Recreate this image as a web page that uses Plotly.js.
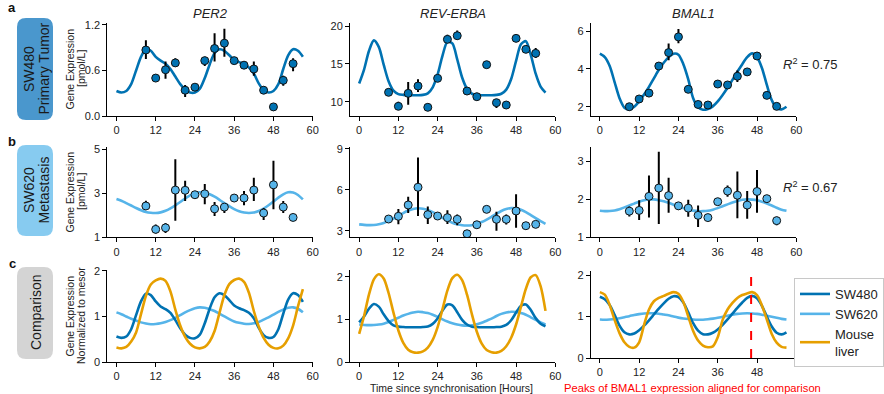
<!DOCTYPE html>
<html><head><meta charset="utf-8">
<script src="https://cdn.plot.ly/plotly-3.0.1.min.js"></script>
<style>html,body{margin:0;padding:0;background:#fff}#chart{width:884px;height:394px}</style>
</head><body><div id="chart"></div>
<script>
// ---------------- DATA ----------------
const genes = ['PER2', 'REV-ERBA', 'BMAL1'];
const sampleTimes = [9,12,15,18,21,24,27,30,33,36,39,42,45,48,51,54];
const fitTimes = [0,1.5,3,4.5,6,7.5,9,10.5,12,13.5,15,16.5,18,19.5,21,22.5,24,25.5,27,28.5,30,31.5,33,34.5,36,37.5,39,40.5,42,43.5,45,46.5,48,49.5,51,52.5,54,55.5,57];
const xTickVals = [0,12,24,36,48,60];
const xTickValsAligned = [0,12,24,36,48];

// Row a : SW480 primary tumor (pmol/L)
const sw480_PER2 = [0.87,0.50,0.61,0.70,0.34,0.38,0.73,0.89,0.96,0.73,0.67,0.62,0.34,0.12,0.47,0.69];
const sw480_PER2_errUp = [0.13,0.02,0.11,0.06,0.07,0.02,0.05,0.20,0.19,0.03,0.02,0.10,0.05,0.02,0.06,0.07];
const sw480_PER2_errDown = [0.12,0.02,0.12,0.05,0.09,0.02,0.07,0.17,0.18,0.03,0.02,0.09,0.05,0.02,0.07,0.10];
const sw480_PER2_fit = [0.33,0.31,0.33,0.42,0.60,0.78,0.88,0.86,0.78,0.73,0.69,0.62,0.52,0.42,0.35,0.31,0.31,0.36,0.50,0.68,0.83,0.88,0.86,0.80,0.74,0.71,0.68,0.64,0.56,0.43,0.34,0.31,0.33,0.42,0.62,0.80,0.88,0.86,0.78];

const sw480_REV = [11.24,9.39,11.1,12.07,9.26,13.09,18.24,18.72,11.41,10.66,14.89,9.87,9.56,18.37,16.92,16.39];
const sw480_REV_errUp = [0.5,0.6,1.5,0.9,0.2,0.2,0.6,0.7,0.2,0.2,0.2,0.4,0.2,0.4,0.2,0.7];
const sw480_REV_errDown = [0.5,0.5,1.5,0.8,0.2,0.2,0.4,0.5,0.2,0.2,0.2,0.7,0.2,0.3,0.2,0.6];
const sw480_REV_fit = [12.4,14.25,16.7,18.1,17.25,14.9,12.7,11.45,11.0,10.9,10.85,10.85,10.85,10.9,11.1,11.9,13.6,16.1,17.9,17.7,15.6,13.2,11.7,11.05,10.9,10.85,10.85,10.85,10.9,11.05,11.6,13.0,15.4,17.6,18.0,16.2,13.7,12.0,11.2];

const sw480_BMAL = [2.0,2.41,2.72,4.15,4.86,5.69,2.92,2.12,2.09,3.2,3.15,3.61,3.84,4.68,2.6,2.02];
const sw480_BMAL_errUp = [0.15,0.05,0.15,0.15,0.48,0.42,0.05,0.05,0.05,0.05,0.05,0.3,0.05,0.05,0.12,0.05];
const sw480_BMAL_errDown = [0.1,0.05,0.15,0.15,0.4,0.34,0.05,0.05,0.05,0.05,0.05,0.3,0.05,0.05,0.15,0.05];
const sw480_BMAL_fit = [4.80,4.62,4.15,3.30,2.45,1.95,1.86,2.00,2.28,2.65,3.05,3.50,3.95,4.32,4.62,4.80,4.75,4.25,3.45,2.45,1.97,1.84,1.88,2.02,2.28,2.62,3.00,3.42,3.85,4.25,4.62,4.82,4.62,4.05,3.15,2.35,1.93,1.86,2.00];

// Row b : SW620 metastasis (pmol/L)
const sw620_PER2 = [2.42,1.36,1.43,3.14,3.13,2.93,2.97,2.29,2.37,2.78,2.78,3.14,2.10,3.38,2.37,1.90];
const sw620_PER2_errUp = [0.24,0.22,0.22,1.40,0.43,0.12,0.45,0.31,0.18,0.12,0.32,0.56,0.23,1.09,0.27,0.04];
const sw620_PER2_errDown = [0.18,0.19,0.23,1.39,0.48,0.12,0.47,0.32,0.27,0.15,0.33,0.49,0.32,1.11,0.27,0.04];
const sw620_PER2_fit = [2.74,2.66,2.55,2.44,2.33,2.23,2.15,2.11,2.10,2.13,2.20,2.31,2.45,2.60,2.76,2.90,3.00,3.04,3.02,2.95,2.84,2.70,2.55,2.41,2.28,2.18,2.12,2.10,2.12,2.19,2.30,2.45,2.62,2.80,2.95,3.04,3.03,2.92,2.72];

const sw620_REV = [3.86,4.06,4.89,6.19,4.18,4.08,3.96,3.84,2.78,3.44,4.57,3.84,3.84,4.45,3.37,3.47];
const sw620_REV_errUp = [0.15,0.54,0.61,2.18,0.6,0.12,0.54,0.36,0.05,0.2,0.2,0.56,0.36,1.23,0.05,0.05];
const sw620_REV_errDown = [0.15,0.59,0.59,2.11,0.68,0.12,0.46,0.44,0.05,0.2,0.2,0.84,0.39,1.23,0.05,0.05];
const sw620_REV_fit = [3.47,3.43,3.41,3.42,3.47,3.57,3.72,3.90,4.10,4.30,4.48,4.60,4.65,4.62,4.52,4.36,4.16,3.95,3.76,3.59,3.47,3.40,3.38,3.41,3.50,3.64,3.82,4.03,4.25,4.45,4.59,4.66,4.64,4.54,4.37,4.15,3.92,3.70,3.50];

const sw620_BMAL = [1.69,1.71,2.08,2.3,2.1,1.83,1.77,1.58,1.52,1.94,2.22,2.11,1.85,2.21,2.02,1.44];
const sw620_BMAL_errUp = [0.12,0.27,0.55,0.96,0.47,0.1,0.22,0.26,0.04,0.04,0.15,0.63,0.37,0.57,0.1,0.1];
const sw620_BMAL_errDown = [0.14,0.25,0.56,0.95,0.45,0.1,0.23,0.31,0.04,0.04,0.15,0.61,0.36,0.56,0.1,0.12];
const sw620_BMAL_fit = [1.70,1.69,1.695,1.71,1.74,1.79,1.84,1.89,1.94,1.98,2.00,2.00,1.98,1.95,1.91,1.86,1.81,1.77,1.73,1.705,1.69,1.69,1.70,1.73,1.77,1.82,1.87,1.92,1.96,1.99,2.00,1.995,1.98,1.94,1.89,1.84,1.78,1.73,1.70];

// Row c : normalized to mesor
const norm480_PER2 = [0.56,0.53,0.56,0.72,1.03,1.33,1.50,1.47,1.33,1.22,1.16,1.08,0.92,0.74,0.60,0.53,0.52,0.60,0.85,1.17,1.42,1.51,1.47,1.36,1.24,1.18,1.14,1.08,0.96,0.75,0.59,0.53,0.55,0.72,1.06,1.37,1.51,1.47,1.32];
const norm620_PER2 = [1.09,1.05,1.00,0.95,0.91,0.87,0.845,0.83,0.835,0.85,0.88,0.92,0.97,1.03,1.09,1.14,1.18,1.20,1.19,1.16,1.12,1.06,1.00,0.94,0.89,0.86,0.84,0.835,0.85,0.88,0.93,0.98,1.04,1.10,1.15,1.19,1.20,1.17,1.09];
const mouse_PER2 = [0.32,0.30,0.33,0.45,0.65,1.05,1.45,1.70,1.79,1.83,1.78,1.55,1.15,0.80,0.55,0.40,0.32,0.30,0.33,0.45,0.68,1.08,1.47,1.71,1.80,1.83,1.76,1.52,1.12,0.78,0.53,0.38,0.31,0.30,0.36,0.52,0.80,1.22,1.60];

const norm480_REV = [0.93,1.07,1.25,1.36,1.30,1.12,0.96,0.86,0.83,0.82,0.815,0.815,0.815,0.82,0.835,0.895,1.02,1.21,1.35,1.33,1.17,0.99,0.88,0.83,0.82,0.815,0.815,0.815,0.82,0.83,0.87,0.98,1.16,1.32,1.35,1.22,1.03,0.90,0.84];
const norm620_REV = [0.88,0.87,0.865,0.87,0.88,0.90,0.94,0.99,1.04,1.09,1.13,1.16,1.18,1.17,1.15,1.11,1.06,1.00,0.95,0.91,0.88,0.86,0.855,0.86,0.885,0.92,0.97,1.02,1.08,1.13,1.16,1.18,1.175,1.15,1.11,1.05,0.99,0.93,0.88];
const mouse_REV = [0.66,1.08,1.58,1.94,2.06,1.96,1.62,1.16,0.74,0.45,0.29,0.23,0.22,0.25,0.34,0.52,0.82,1.24,1.68,1.97,2.05,1.92,1.58,1.12,0.71,0.43,0.28,0.23,0.22,0.26,0.37,0.57,0.88,1.30,1.72,1.99,2.04,1.78,1.20];

const norm480_BMAL = [1.48,1.42,1.28,1.04,0.78,0.62,0.57,0.59,0.67,0.78,0.91,1.05,1.19,1.32,1.43,1.49,1.47,1.34,1.10,0.84,0.66,0.575,0.57,0.61,0.69,0.80,0.93,1.07,1.21,1.34,1.45,1.50,1.44,1.26,1.00,0.76,0.61,0.57,0.62];
const norm620_BMAL = [0.93,0.925,0.93,0.94,0.96,0.985,1.01,1.04,1.06,1.075,1.08,1.08,1.07,1.05,1.03,1.00,0.975,0.955,0.94,0.93,0.925,0.925,0.935,0.95,0.97,0.995,1.02,1.045,1.065,1.075,1.08,1.075,1.065,1.045,1.02,0.995,0.97,0.945,0.93];
const mouse_BMAL = [1.59,1.53,1.28,0.92,0.60,0.38,0.27,0.25,0.38,0.80,1.17,1.37,1.45,1.50,1.55,1.59,1.55,1.35,1.00,0.65,0.42,0.30,0.26,0.28,0.50,0.92,1.17,1.33,1.45,1.52,1.56,1.59,1.52,1.27,0.93,0.58,0.37,0.27,0.25];

const rSquared = ['0.75', '0.67'];
const peakAlignTime = 46.2;
const seriesNames = ['SW480', 'SW620', 'Mouse<br>liver'];

// ---------------- STYLE / LAYOUT ----------------
const C480 = '#0072B2', C620 = '#56B4E9', CMOUSE = '#E69F00';
const FONT = 'Liberation Sans, Arial, sans-serif';
const W = 884, H = 394;
const px = x => x / W, py = y => 1 - y / H;

const xDom = [[107.3, 312.7], [350, 555.3], [590.7, 796.3]];
const yDom = [[22.7, 116], [147.3, 237.3], [270, 362]];
const yRanges = [[0, 1.23], [8.11, 20.44], [1.51, 6.44], [1, 5.08], [2.52, 9.12], [1, 3.376], [0, 2.02], [0, 2.16], [0, 2.1]];
const yTicks = [[0, 0.6, 1.2], [10, 15, 20], [2, 4, 6], [1, 3, 5], [3, 6, 9], [1, 2, 3], [0, 1, 2], [0, 1, 2], [0, 1, 2]];
const yTickText = [['0.0', '0.6', '1.2'], null, null, null, null, null, null, null, null];

const ax = k => (k === 1 ? '' : String(k));
const traces = [];

function curve(k, y, color, name, legend) {
  traces.push({type: 'scatter', mode: 'lines', x: fitTimes, y: y, xaxis: 'x' + ax(k), yaxis: 'y' + ax(k),
    line: {color: color, width: 2.6, shape: 'spline', smoothing: 0.8}, name: name, showlegend: !!legend, hoverinfo: 'skip'});
}
function points(k, y, up, down, color) {
  traces.push({type: 'scatter', mode: 'markers', x: sampleTimes, y: y, xaxis: 'x' + ax(k), yaxis: 'y' + ax(k),
    error_y: {type: 'data', symmetric: false, array: up, arrayminus: down, color: '#000', thickness: 2, width: 0},
    marker: {size: 8, color: color, line: {color: '#111', width: 1}}, showlegend: false, hoverinfo: 'skip'});
}

curve(1, sw480_PER2_fit, C480); points(1, sw480_PER2, sw480_PER2_errUp, sw480_PER2_errDown, C480);
curve(2, sw480_REV_fit, C480);  points(2, sw480_REV, sw480_REV_errUp, sw480_REV_errDown, C480);
curve(3, sw480_BMAL_fit, C480); points(3, sw480_BMAL, sw480_BMAL_errUp, sw480_BMAL_errDown, C480);
curve(4, sw620_PER2_fit, C620); points(4, sw620_PER2, sw620_PER2_errUp, sw620_PER2_errDown, C620);
curve(5, sw620_REV_fit, C620);  points(5, sw620_REV, sw620_REV_errUp, sw620_REV_errDown, C620);
curve(6, sw620_BMAL_fit, C620); points(6, sw620_BMAL, sw620_BMAL_errUp, sw620_BMAL_errDown, C620);
curve(7, norm620_PER2, C620); curve(7, norm480_PER2, C480); curve(7, mouse_PER2, CMOUSE);
curve(8, norm620_REV, C620);  curve(8, norm480_REV, C480);  curve(8, mouse_REV, CMOUSE);
curve(9, norm620_BMAL, C620, seriesNames[1], true);
curve(9, norm480_BMAL, C480, seriesNames[0], true);
curve(9, mouse_BMAL, CMOUSE, seriesNames[2], true);
// legend order
traces[traces.length - 2].legendrank = 1;
traces[traces.length - 3].legendrank = 2;
traces[traces.length - 1].legendrank = 3;

const layout = {
  width: W, height: H, margin: {l: 0, r: 0, t: 0, b: 0},
  paper_bgcolor: '#fff', plot_bgcolor: '#fff',
  font: {family: FONT, size: 11, color: '#222'},
  showlegend: true,
  legend: {x: px(794), y: py(278), xanchor: 'left', yanchor: 'top', bgcolor: '#fff', bordercolor: '#c8c8c8', borderwidth: 1,
    font: {family: FONT, size: 13, color: '#222'}, itemwidth: 30, tracegroupgap: 0, traceorder: 'normal'},
  annotations: [], shapes: []
};

for (let k = 1; k <= 9; k++) {
  const r = Math.floor((k - 1) / 3), c = (k - 1) % 3;
  let yd = yDom[r];
  if (k === 9) yd = [271, 358];
  layout['xaxis' + ax(k)] = {domain: [px(xDom[c][0]), px(xDom[c][1])], range: [-2.8, 60], anchor: 'y' + ax(k),
    tickvals: k === 9 ? xTickValsAligned : xTickVals, showgrid: false, zeroline: false, showline: true, linecolor: '#000', linewidth: 1,
    ticks: 'outside', ticklen: 4, tickwidth: 1, tickcolor: '#000', tickfont: {family: FONT, size: 11, color: '#222'}, fixedrange: true};
  const ya = {domain: [py(yd[1]), py(yd[0])], range: yRanges[k - 1], anchor: 'x' + ax(k), tickvals: yTicks[k - 1],
    showgrid: false, zeroline: false, showline: true, linecolor: '#000', linewidth: 1,
    ticks: 'outside', ticklen: 4, tickwidth: 1, tickcolor: '#000', tickfont: {family: FONT, size: 11, color: '#222'}, fixedrange: true};
  if (yTickText[k - 1]) ya.ticktext = yTickText[k - 1];
  layout['yaxis' + ax(k)] = ya;
}

function note(text, x, y, opts) {
  layout.annotations.push(Object.assign({text: text, x: px(x), y: py(y), xref: 'paper', yref: 'paper', showarrow: false,
    xanchor: 'center', yanchor: 'middle', font: {family: FONT, size: 11, color: '#222'}}, opts || {}));
}

// gene titles
genes.forEach((g, i) => note('<i>' + g + '</i>', (xDom[i][0] + xDom[i][1]) / 2, 13, {font: {family: FONT, size: 13, color: '#222'}}));

// panel letters
note('<b>a</b>', 12, 8, {font: {family: FONT, size: 13, color: '#111'}});
note('<b>b</b>', 12, 141, {font: {family: FONT, size: 13, color: '#111'}});
note('<b>c</b>', 12, 263, {font: {family: FONT, size: 13, color: '#111'}});

// left label boxes
function rbox(x0, y0, x1, y1, color) {
  const rr = 9;
  const X0 = px(x0), X1 = px(x1), Y0 = py(y0), Y1 = py(y1), rx = rr / W, ry = rr / H;
  layout.shapes.push({type: 'path', xref: 'paper', yref: 'paper', fillcolor: color, line: {width: 0},
    path: `M ${X0 + rx} ${Y0} L ${X1 - rx} ${Y0} Q ${X1} ${Y0} ${X1} ${Y0 - ry} L ${X1} ${Y1 + ry} Q ${X1} ${Y1} ${X1 - rx} ${Y1} L ${X0 + rx} ${Y1} Q ${X0} ${Y1} ${X0} ${Y1 + ry} L ${X0} ${Y0 - ry} Q ${X0} ${Y0} ${X0 + rx} ${Y0} Z`});
}
rbox(17, 18, 53, 120, '#4A97CD');
rbox(17, 145, 53, 236, '#87CBF0');
rbox(17, 267, 53, 359, '#D4D4D4');
const boxFont = {family: FONT, size: 14, color: '#1a1a1a'};
note('SW480', 29, 69, {textangle: -90, font: boxFont});
note('Primary Tumor', 43.5, 69, {textangle: -90, font: boxFont});
note('SW620', 29, 190, {textangle: -90, font: boxFont});
note('Metastasis', 43.5, 190, {textangle: -90, font: boxFont});
note('Comparison', 36, 313, {textangle: -90, font: boxFont});

// y-axis titles
const ytFont = {family: FONT, size: 10.5, color: '#222'};
[[69, '[pmol/L]'], [192, '[pmol/L]'], [316, 'Normalized to mesor']].forEach(([yc, l2]) => {
  note('Gene Expression', 69.5, yc, {textangle: -90, font: ytFont});
  note(l2, 81, yc, {textangle: -90, font: ytFont});
});

// R squared
note('<i>R</i><sup>2</sup> = ' + rSquared[0], 781, 64, {xanchor: 'left', font: {family: FONT, size: 13, color: '#222'}});
note('<i>R</i><sup>2</sup> = ' + rSquared[1], 781, 187, {xanchor: 'left', font: {family: FONT, size: 13, color: '#222'}});

// bottom labels
note('Time since synchronisation [Hours]', 452, 388, {font: {family: FONT, size: 10.5, color: '#222'}});
note('Peaks of BMAL1 expression aligned for comparison', 692, 388, {font: {family: FONT, size: 11.2, color: '#ff0000'}});

// alignment line
layout.shapes.push({type: 'line', xref: 'x9', yref: 'y9 domain', x0: peakAlignTime, x1: peakAlignTime, y0: 0, y1: 0.95,
  line: {color: '#ff0000', width: 2, dash: 'dash'}});

Plotly.newPlot('chart', traces, layout, {staticPlot: true, displayModeBar: false});
</script>
</body></html>
